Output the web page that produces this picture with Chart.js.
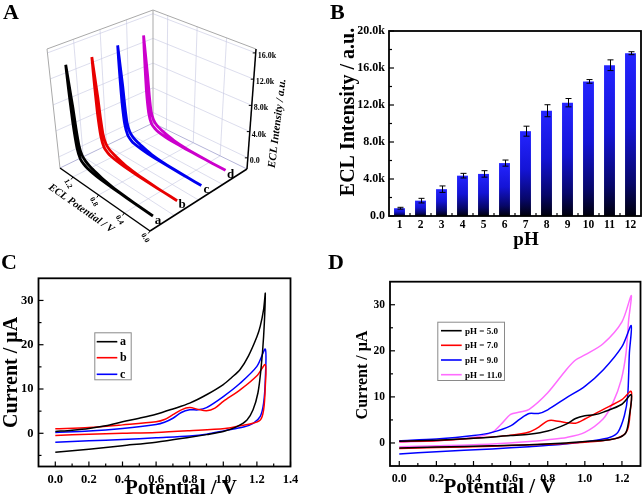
<!DOCTYPE html>
<html>
<head>
<meta charset="utf-8">
<title>ECL figure</title>
<script src="https://cdn.jsdelivr.net/npm/chart.js@4.4.1/dist/chart.umd.min.js"></script>
<style>
  html, body { margin:0; padding:0; background:#fff; }
  #fig { position:relative; width:643px; height:499px; overflow:hidden; background:#fff; }
  #fig canvas { position:absolute; display:block; }
  .panel { position:absolute; font-family:"Liberation Serif","Times New Roman",Times,serif; font-weight:bold; font-size:22px; line-height:22px; color:#000; }
</style>
</head>
<body>
<div id="fig">
  <canvas id="chartA" width="320" height="250" style="left:0px;top:0px;"></canvas>
  <canvas id="chartB" width="323" height="250" style="left:320px;top:0px;"></canvas>
  <canvas id="chartC" width="320" height="249" style="left:0px;top:250px;"></canvas>
  <canvas id="chartD" width="323" height="249" style="left:320px;top:250px;"></canvas>
  <div class="panel" style="left:3px;top:1px;">A</div>
  <div class="panel" style="left:330px;top:1px;">B</div>
  <div class="panel" style="left:1px;top:251px;">C</div>
  <div class="panel" style="left:328px;top:251px;">D</div>
</div>
<script>
// ================= DATA =================
// ---- Panel A: ECL intensity vs potential (waterfall) ----
const eclSeriesLabels = ['a', 'b', 'c', 'd'];
const eclScanForwardE = [0, 0.2, 0.4, 0.6, 0.8, 0.9, 1.0, 1.05, 1.1, 1.14, 1.17, 1.185, 1.195, 1.2];
const eclScanReverseE = [1.2, 1.175, 1.15, 1.13, 1.105, 1.07, 1.02, 0.95, 0.85, 0.75, 0.6, 0.4, 0.2, 0];
const eclA_forward = [200, 220, 250, 300, 400, 520, 750, 1000, 1500, 3000, 6500, 10000, 13000, 15200];
const eclA_reverse = [15200, 12000, 9000, 6000, 3500, 2300, 1700, 1300, 950, 650, 430, 300, 240, 220];
const eclB_forward = [210, 230, 260, 310, 410, 530, 740, 980, 1480, 2950, 6300, 9700, 12700, 14800];
const eclB_reverse = [14800, 11700, 8800, 5900, 3450, 2250, 1650, 1280, 920, 630, 420, 300, 240, 230];
const eclC_forward = [220, 240, 270, 320, 420, 540, 760, 1010, 1520, 3000, 6400, 9900, 12900, 15000];
const eclC_reverse = [15000, 11900, 8900, 5950, 3480, 2280, 1680, 1290, 930, 640, 430, 310, 250, 240];
const eclD_forward = [230, 250, 280, 330, 430, 550, 770, 1020, 1510, 2980, 6350, 9800, 12800, 14950];
const eclD_reverse = [14950, 11850, 8850, 5920, 3460, 2270, 1670, 1300, 940, 650, 440, 320, 260, 250];
const potentialTicksA = [0, 0.4, 0.8, 1.2];
const potentialTickLabelsA = ['0.0', '0.4', '0.8', '1.2'];
const intensityTicksA = [0, 4000, 8000, 12000, 16000];
const intensityTickLabelsA = ['0.0', '4.0k', '8.0k', '12.0k', '16.0k'];

// ---- Panel B: ECL intensity vs pH ----
const pHCategories = ['1', '2', '3', '4', '5', '6', '7', '8', '9', '10', '11', '12'];
const eclByPH = [840, 1660, 2900, 4360, 4550, 5720, 9170, 11380, 12250, 14550, 16300, 17600];
const eclByPHErr = [100, 250, 350, 250, 350, 330, 540, 650, 450, 200, 580, 160];
const bYTicks = [0, 4000, 8000, 12000, 16000, 20000];
const bYTickLabels = ['0.0', '4.0k', '8.0k', '12.0k', '16.0k', '20.0k'];
const bYMinorTicks = [2000, 6000, 10000, 14000, 18000];

// ---- Panel C: CVs a, b, c ----
const cvLabelsC = ['a', 'b', 'c'];
const cvC_a_E = [0, 0.1, 0.2, 0.3, 0.4, 0.5, 0.6, 0.7, 0.8, 0.9, 1.0, 1.05, 1.1, 1.15, 1.2, 1.22, 1.24, 1.25, 1.24, 1.224, 1.206, 1.177, 1.141, 1.081, 1.0, 0.9, 0.8, 0.6, 0.4, 0.2, 0];
const cvC_a_I = [0.4, 0.7, 1.1, 1.7, 2.6, 3.4, 4.3, 5.5, 6.8, 8.7, 11.0, 12.6, 14.4, 17.5, 21.8, 24.2, 28.0, 31.6, 21.9, 14.4, 9.1, 5.3, 3.0, 1.5, 0.4, -0.3, -0.9, -2.0, -2.8, -3.6, -4.3];
const cvC_b_E = [0, 0.2, 0.4, 0.6, 0.65, 0.7, 0.75, 0.8, 0.85, 0.9, 0.95, 1.0, 1.1, 1.2, 1.25, 1.25, 1.24, 1.22, 1.16, 1.1, 1.01, 0.8, 0.6, 0.4, 0.2, 0];
const cvC_b_I = [1.0, 1.3, 1.9, 2.6, 3.1, 4.2, 5.3, 5.8, 5.4, 5.1, 5.7, 7.2, 9.8, 13.0, 15.5, 10.6, 5.3, 3.0, 2.1, 1.7, 1.1, 0.6, 0.2, 0.0, -0.2, -0.5];
const cvC_c_E = [0, 0.2, 0.4, 0.6, 0.65, 0.7, 0.75, 0.8, 0.85, 0.9, 1.0, 1.1, 1.2, 1.25, 1.25, 1.24, 1.22, 1.18, 1.12, 1.01, 0.9, 0.8, 0.6, 0.4, 0.2, 0];
const cvC_c_I = [0.2, 0.5, 1.1, 2.0, 2.5, 3.4, 4.7, 5.3, 5.3, 5.8, 8.3, 11.3, 15.1, 19.0, 12.1, 6.8, 3.8, 2.3, 1.4, 0.6, -0.2, -0.6, -1.0, -1.4, -1.7, -2.0];
const cXTicks = [0, 0.2, 0.4, 0.6, 0.8, 1.0, 1.2, 1.4];
const cXTickLabels = ['0.0', '0.2', '0.4', '0.6', '0.8', '1.0', '1.2', '1.4'];
const cXMinorTicks = [0.1, 0.3, 0.5, 0.7, 0.9, 1.1, 1.3];
const cYTicks = [0, 10, 20, 30];
const cYTickLabels = ['0', '10', '20', '30'];
const cYMinorTicks = [-5, 5, 15, 25];

// ---- Panel D: CVs at different pH ----
const cvLabelsD = ['pH = 5.0', 'pH = 7.0', 'pH = 9.0', 'pH = 11.0'];
const cvD_5_E = [0, 0.2, 0.4, 0.6, 0.7, 0.8, 0.9, 0.95, 1.0, 1.05, 1.1, 1.2, 1.25, 1.24, 1.222, 1.187, 1.133, 1.0, 0.9, 0.7, 0.5, 0.2, 0];
const cvD_5_I = [0.36, 0.6, 1.0, 1.6, 1.9, 2.6, 4.1, 5.3, 5.9, 6.1, 6.7, 8.4, 10.5, 5.9, 2.3, 1.2, 0.7, 0.3, 0.0, -0.4, -0.6, -0.9, -1.1];
const cvD_7_E = [0, 0.2, 0.4, 0.6, 0.7, 0.75, 0.8, 0.83, 0.9, 0.95, 1.0, 1.1, 1.2, 1.25, 1.244, 1.231, 1.196, 1.133, 1.0, 0.9, 0.7, 0.5, 0.2, 0];
const cvD_7_I = [0.3, 0.5, 1.0, 1.7, 2.4, 3.4, 4.8, 4.9, 4.4, 4.3, 5.2, 7.3, 9.4, 11.2, 6.6, 3.0, 1.4, 0.7, 0.14, -0.1, -0.4, -0.7, -1.0, -1.2];
const cvD_9_E = [0, 0.2, 0.4, 0.5, 0.6, 0.65, 0.7, 0.75, 0.8, 0.9, 1.0, 1.1, 1.2, 1.25, 1.24, 1.231, 1.213, 1.178, 1.133, 1.044, 0.973, 0.849, 0.7, 0.5, 0.2, 0];
const cvD_9_I = [0.5, 0.86, 1.6, 2.3, 3.7, 5.2, 6.4, 6.4, 7.2, 9.8, 12.3, 15.9, 20.9, 25.5, 19.5, 10.2, 5.9, 2.3, 1.2, 0.5, 0.14, -0.4, -0.8, -1.3, -1.9, -2.4];
const cvD_11_E = [0, 0.2, 0.4, 0.5, 0.55, 0.6, 0.65, 0.7, 0.8, 0.9, 0.95, 1.0, 1.1, 1.2, 1.25, 1.236, 1.222, 1.196, 1.151, 1.098, 1.0, 0.902, 0.8, 0.7, 0.5, 0.2, 0];
const cvD_11_I = [0.14, 0.5, 1.2, 2.3, 4.1, 6.2, 6.7, 7.3, 10.9, 15.9, 18.0, 19.1, 21.6, 26.3, 32.0, 26.6, 19.5, 13.7, 8.7, 5.2, 2.3, 1.2, 0.7, 0.3, -0.2, -0.6, -0.8];
const dXTicks = [0, 0.2, 0.4, 0.6, 0.8, 1.0, 1.2];
const dXTickLabels = ['0.0', '0.2', '0.4', '0.6', '0.8', '1.0', '1.2'];
const dXMinorTicks = [0.1, 0.3, 0.5, 0.7, 0.9, 1.1];
const dYTicks = [0, 10, 20, 30];
const dYTickLabels = ['0', '10', '20', '30'];
const dYMinorTicks = [5, 15, 25];

// ================= COMMON =================
const FONT = '"Liberation Serif", "Times New Roman", Times, serif';
Chart.defaults.font.family = FONT;
Chart.defaults.font.weight = 'bold';
Chart.defaults.color = '#000';
Chart.defaults.animation = false;
Chart.defaults.responsive = false;
Chart.defaults.devicePixelRatio = 1;
Chart.defaults.plugins.legend.display = false;
Chart.defaults.plugins.tooltip.enabled = false;

function line(ctx, x1, y1, x2, y2) { ctx.beginPath(); ctx.moveTo(x1, y1); ctx.lineTo(x2, y2); ctx.stroke(); }

function framePlugin(cfg) {
  return {
    id: 'originFrame',
    afterDatasetsDraw(chart) {
      const { ctx, chartArea: a, scales } = chart;
      ctx.save();
      ctx.strokeStyle = '#000';
      ctx.lineWidth = 1.8;
      ctx.strokeRect(a.left, a.top, a.right - a.left, a.bottom - a.top);
      ctx.lineWidth = 1.2;
      (cfg.xMajor || []).forEach(v => { const x = scales.x.getPixelForValue(v); line(ctx, x, a.bottom, x, a.bottom - 5); });
      (cfg.xMinor || []).forEach(v => { const x = scales.x.getPixelForValue(v); line(ctx, x, a.bottom, x, a.bottom - 3); });
      (cfg.yMajor || []).forEach(v => { const y = scales.y.getPixelForValue(v); line(ctx, a.left, y, a.left + 5, y); });
      (cfg.yMinor || []).forEach(v => { const y = scales.y.getPixelForValue(v); line(ctx, a.left, y, a.left + 3, y); });
      ctx.restore();
    }
  };
}

function titlesPlugin(items) {
  return {
    id: 'axisTitles',
    afterDraw(chart) {
      const ctx = chart.ctx;
      items.forEach(t => {
        ctx.save();
        ctx.font = t.font;
        ctx.fillStyle = '#000';
        ctx.textAlign = 'center';
        ctx.textBaseline = 'middle';
        ctx.translate(t.x, t.y);
        if (t.rot) ctx.rotate(t.rot * Math.PI / 180);
        ctx.fillText(t.text, 0, 0);
        ctx.restore();
      });
    }
  };
}

function legendPlugin(cfg) {
  return {
    id: 'boxLegend',
    afterDatasetsDraw(chart) {
      const ctx = chart.ctx;
      const [x0, y0, x1, y1] = cfg.box;
      ctx.save();
      ctx.fillStyle = '#fff';
      ctx.fillRect(x0, y0, x1 - x0, y1 - y0);
      ctx.strokeStyle = '#8a8a8a';
      ctx.lineWidth = 1;
      ctx.strokeRect(x0 + 0.5, y0 + 0.5, x1 - x0, y1 - y0);
      chart.data.datasets.forEach((ds, i) => {
        const y = cfg.rows[i];
        ctx.strokeStyle = ds.borderColor;
        ctx.lineWidth = 1.6;
        line(ctx, cfg.line[0], y, cfg.line[1], y);
        ctx.fillStyle = '#000';
        ctx.font = cfg.font;
        ctx.textAlign = 'left';
        ctx.textBaseline = 'middle';
        ctx.fillText(ds.label, cfg.textX, y + 0.5);
      });
      ctx.restore();
    }
  };
}

function cvDataset(label, E, I, color) {
  return {
    label, borderColor: color, backgroundColor: color,
    data: E.map((e, i) => ({ x: e, y: I[i] })),
    showLine: true, pointRadius: 0, borderWidth: 1.5, tension: 0.3, fill: false
  };
}

function linearAxis(min, max, ticks, labels, fontSize, pad, fitFn) {
  return {
    type: 'linear', min, max,
    grid: { display: false, drawTicks: false }, border: { display: false },
    ticks: { padding: pad, font: { size: fontSize, weight: 'bold' }, autoSkip: false, maxRotation: 0,
             callback: (v, idx) => labels[idx] },
    afterBuildTicks: s => { s.ticks = ticks.map(v => ({ value: v })); },
    afterFit: fitFn
  };
}

// ================= PANEL A (projected waterfall) =================
const BOX = { F0: [150, 231], L0: [60, 168], R0: [247, 169], B0: [153, 123],
              F1: [150, 104], L1: [47, 49], R1: [256, 49], B1: [153, 10] };
const E_MAX = 1.4, Z_MIN = -1700, Z_MAX = 16600;
const SERIES_V0 = 0.03, SERIES_DV = 0.247;
function lerp2(p, q, t) { return [p[0] + (q[0] - p[0]) * t, p[1] + (q[1] - p[1]) * t]; }
function boxPoint(u, v, w) {
  const b = lerp2(lerp2(BOX.F0, BOX.R0, v), lerp2(BOX.L0, BOX.B0, v), u);
  const t = lerp2(lerp2(BOX.F1, BOX.R1, v), lerp2(BOX.L1, BOX.B1, v), u);
  return lerp2(b, t, w);
}
const zNorm = z => (z - Z_MIN) / (Z_MAX - Z_MIN);
function proj3(E, I, k) {
  const p = boxPoint(E / E_MAX, SERIES_V0 + k * SERIES_DV, zNorm(I));
  return { x: p[0], y: p[1] };
}
const eclForwardSets = [eclA_forward, eclB_forward, eclC_forward, eclD_forward];
const eclReverseSets = [eclA_reverse, eclB_reverse, eclC_reverse, eclD_reverse];
const eclColors = ['#000000', '#e80000', '#0000f0', '#cc00cc'];

const waterfallBox = {
  id: 'waterfallBox',
  beforeDatasetsDraw(chart) {
    const ctx = chart.ctx, sx = chart.scales.x, sy = chart.scales.y;
    const P = (u, v, w) => { const p = boxPoint(u, v, w); return [sx.getPixelForValue(p[0]), sy.getPixelForValue(p[1])]; };
    const seg = (a, b) => line(ctx, a[0], a[1], b[0], b[1]);
    ctx.save();
    ctx.strokeStyle = 'rgba(196,198,225,0.75)';
    ctx.lineWidth = 0.8;
    intensityTicksA.forEach(t => { const w = zNorm(t); seg(P(1, 0, w), P(1, 1, w)); seg(P(1, 1, w), P(0, 1, w)); });
    potentialTicksA.forEach(e => { const u = e / E_MAX; seg(P(u, 1, 0), P(u, 1, 1)); seg(P(u, 0, 0), P(u, 1, 0)); });
    [0.25, 0.5, 0.75].forEach(v => { seg(P(1, v, 0), P(1, v, 1)); seg(P(0, v, 0), P(1, v, 0)); });
    ctx.strokeStyle = '#a9a9a9';
    ctx.lineWidth = 1;
    seg(P(1, 0, 1), P(1, 1, 1)); seg(P(1, 1, 1), P(0, 1, 1));
    seg(P(1, 0, 0), P(1, 0, 1)); seg(P(1, 1, 0), P(1, 1, 1));
    ctx.strokeStyle = '#b4b4d8';
    seg(P(1, 0, 0), P(1, 1, 0)); seg(P(1, 1, 0), P(0, 1, 0));
    ctx.restore();
  },
  afterDatasetsDraw(chart) {
    const ctx = chart.ctx, sx = chart.scales.x, sy = chart.scales.y;
    const P = (u, v, w) => { const p = boxPoint(u, v, w); return [sx.getPixelForValue(p[0]), sy.getPixelForValue(p[1])]; };
    const seg = (a, b) => line(ctx, a[0], a[1], b[0], b[1]);
    ctx.save();
    ctx.strokeStyle = '#000';
    ctx.fillStyle = '#000';
    ctx.lineWidth = 1.5;
    seg(P(0, 0, 0), P(1, 0, 0));
    seg(P(0, 0, 0), P(0, 1, 0));
    seg(P(0, 1, 0), P(0, 1, 1));
    ctx.lineWidth = 1;
    ctx.font = 'bold 8px ' + FONT;
    ctx.textAlign = 'left';
    ctx.textBaseline = 'middle';
    intensityTicksA.forEach((t, i) => {
      const p = P(0, 1, zNorm(t));
      seg(p, [p[0] - 3, p[1]]);
      ctx.fillText(intensityTickLabelsA[i], p[0] + 2, p[1] + 3);
    });
    const a = P(1, 0, 0), f = P(0, 0, 0);
    const dx = f[0] - a[0], dy = f[1] - a[1], len = Math.hypot(dx, dy);
    const ux = dx / len, uy = dy / len, nx = -uy, ny = ux;
    ctx.font = 'bold 7.5px ' + FONT;
    ctx.textAlign = 'center';
    potentialTicksA.forEach((e, i) => {
      const p = P(e / E_MAX, 0, 0);
      seg(p, [p[0] + nx * 3, p[1] + ny * 3]);
      ctx.save();
      ctx.translate(p[0] + nx * 8.5, p[1] + ny * 8.5);
      ctx.rotate(60 * Math.PI / 180);
      ctx.fillText(potentialTickLabelsA[i], 0, 0);
      ctx.restore();
    });
    ctx.font = 'italic bold 10.5px ' + FONT;
    ctx.save();
    ctx.translate(a[0] + dx * 0.37 + nx * 21, a[1] + dy * 0.37 + ny * 21);
    ctx.rotate(Math.atan2(dy, dx));
    ctx.fillText('ECL Potential / V', 0, 0);
    ctx.restore();
    const m = P(0, 1, 0.38);
    ctx.font = 'italic bold 11px ' + FONT;
    ctx.save();
    ctx.translate(m[0] + 27, m[1]);
    ctx.rotate(-83 * Math.PI / 180);
    ctx.fillText('ECL Intensity / a.u.', 0, 0);
    ctx.restore();
    ctx.font = 'bold 13px ' + FONT;
    eclSeriesLabels.forEach((lab, k) => {
      const rev = eclReverseSets[k];
      const q = proj3(eclScanReverseE[eclScanReverseE.length - 1], rev[rev.length - 1], k);
      ctx.fillText(lab, sx.getPixelForValue(q.x) + 5, sy.getPixelForValue(q.y) + 4.5);
    });
    ctx.restore();
  }
};

new Chart(document.getElementById('chartA'), {
  type: 'scatter',
  data: {
    datasets: eclSeriesLabels.map((lab, k) => ({
      label: lab,
      data: eclScanForwardE.map((e, i) => proj3(e, eclForwardSets[k][i], k))
        .concat(eclScanReverseE.map((e, i) => proj3(e, eclReverseSets[k][i], k))),
      showLine: true, borderColor: eclColors[k], borderWidth: 2.8, pointRadius: 0, tension: 0.12, fill: false
    }))
  },
  options: {
    layout: { padding: 0 },
    scales: {
      x: { type: 'linear', min: 0, max: 320, display: false },
      y: { type: 'linear', min: 0, max: 250, reverse: true, display: false }
    }
  },
  plugins: [waterfallBox]
});

// ================= PANEL B =================
const errorBarsB = {
  id: 'errorBars',
  afterDatasetsDraw(chart) {
    const ctx = chart.ctx, ys = chart.scales.y, meta = chart.getDatasetMeta(0);
    ctx.save();
    ctx.strokeStyle = '#000';
    ctx.lineWidth = 1;
    meta.data.forEach((el, i) => {
      const v = eclByPH[i], e = eclByPHErr[i];
      const x = Math.round(el.x) + 0.5;
      const yt = ys.getPixelForValue(v + e), yb = ys.getPixelForValue(v - e);
      line(ctx, x, yt, x, yb);
      line(ctx, x - 3, yt, x + 3, yt);
      line(ctx, x - 3, yb, x + 3, yb);
    });
    ctx.restore();
  }
};

function barGradient(c) {
  const chart = c.chart;
  if (!chart.chartArea || c.type !== 'data' || !chart.scales.y) return '#1a1aff';
  const ys = chart.scales.y;
  const top = ys.getPixelForValue(c.raw), base = ys.getPixelForValue(0);
  if (!isFinite(top) || !isFinite(base) || top === base) return '#1a1aff';
  const g = chart.ctx.createLinearGradient(0, top, 0, base);
  g.addColorStop(0, '#2424ff');
  g.addColorStop(0.45, '#1414d6');
  g.addColorStop(0.8, '#07076a');
  g.addColorStop(1, '#00000c');
  return g;
}

new Chart(document.getElementById('chartB'), {
  type: 'bar',
  data: {
    labels: pHCategories,
    datasets: [{ data: eclByPH, backgroundColor: barGradient, borderWidth: 0, barPercentage: 0.52, categoryPercentage: 1 }]
  },
  options: {
    layout: { padding: { top: 31, right: 2, left: 0, bottom: 0 } },
    scales: {
      x: { type: 'category', offset: true, grid: { display: false, drawTicks: false }, border: { display: false },
           ticks: { padding: 2, font: { size: 11.5, weight: 'bold' }, autoSkip: false, maxRotation: 0 },
           afterFit: s => { s.height = 34; } },
      y: linearAxis(0, 20000, bYTicks, bYTickLabels, 12, 4, s => { s.width = 69; })
    }
  },
  plugins: [
    errorBarsB,
    framePlugin({ xMinor: [0.5, 1.5, 2.5, 3.5, 4.5, 5.5, 6.5, 7.5, 8.5, 9.5, 10.5], yMajor: bYTicks, yMinor: bYMinorTicks }),
    titlesPlugin([
      { text: 'ECL Intensity / a.u.', x: 29, y: 112, rot: -90, font: 'bold 20px ' + FONT },
      { text: 'pH', x: 206, y: 240.5, rot: 0, font: 'bold 19px ' + FONT }
    ])
  ]
});

// ================= PANEL C =================
new Chart(document.getElementById('chartC'), {
  type: 'scatter',
  data: {
    datasets: [
      cvDataset(cvLabelsC[0], cvC_a_E, cvC_a_I, '#000000'),
      cvDataset(cvLabelsC[1], cvC_b_E, cvC_b_I, '#ff0000'),
      cvDataset(cvLabelsC[2], cvC_c_E, cvC_c_I, '#0000ff')
    ]
  },
  options: {
    layout: { padding: { top: 28.3, right: 29.5, left: 0, bottom: 0 } },
    scales: {
      x: linearAxis(-0.1, 1.4, cXTicks, cXTickLabels, 12.5, 5.3, s => { s.height = 32.5; }),
      y: linearAxis(-7.5, 35, cYTicks, cYTickLabels, 12.5, 5, s => { s.width = 38.5; })
    }
  },
  plugins: [
    framePlugin({ xMajor: cXTicks, xMinor: cXMinorTicks, yMajor: cYTicks, yMinor: cYMinorTicks }),
    legendPlugin({ box: [94.3, 82.3, 130.7, 129.3], rows: [91.7, 107.7, 124.3], line: [96.7, 117.3], textX: 120, font: 'bold 12px ' + FONT }),
    titlesPlugin([
      { text: 'Current / \u03bcA', x: 12, y: 122.4, rot: -90, font: 'bold 20px ' + FONT },
      { text: 'Potential / V', x: 181, y: 239, rot: 0, font: 'bold 21px ' + FONT }
    ])
  ]
});

// ================= PANEL D =================
new Chart(document.getElementById('chartD'), {
  type: 'scatter',
  data: {
    datasets: [
      cvDataset(cvLabelsD[0], cvD_5_E, cvD_5_I, '#000000'),
      cvDataset(cvLabelsD[1], cvD_7_E, cvD_7_I, '#ff0000'),
      cvDataset(cvLabelsD[2], cvD_9_E, cvD_9_I, '#0000ff'),
      cvDataset(cvLabelsD[3], cvD_11_E, cvD_11_I, '#ff6cff')
    ]
  },
  options: {
    layout: { padding: { top: 31.7, right: 2.5, left: 0, bottom: 0 } },
    scales: {
      x: linearAxis(-0.05, 1.3, dXTicks, dXTickLabels, 12, 5.5, s => { s.height = 33; }),
      y: linearAxis(-5, 35, dYTicks, dYTickLabels, 11.5, 5, s => { s.width = 70; })
    }
  },
  plugins: [
    framePlugin({ xMajor: dXTicks, xMinor: dXMinorTicks, yMajor: dYTicks, yMinor: dYMinorTicks }),
    legendPlugin({ box: [117.3, 71.7, 184, 130], rows: [80.7, 95.3, 110, 124.7], line: [121, 141.7], textX: 145, font: 'bold 9px ' + FONT }),
    titlesPlugin([
      { text: 'Current / \u03bcA', x: 43, y: 125, rot: -90, font: 'bold 16px ' + FONT },
      { text: 'Potential / V', x: 179.5, y: 237.5, rot: 0, font: 'bold 21px ' + FONT }
    ])
  ]
});
</script>
</body>
</html>
